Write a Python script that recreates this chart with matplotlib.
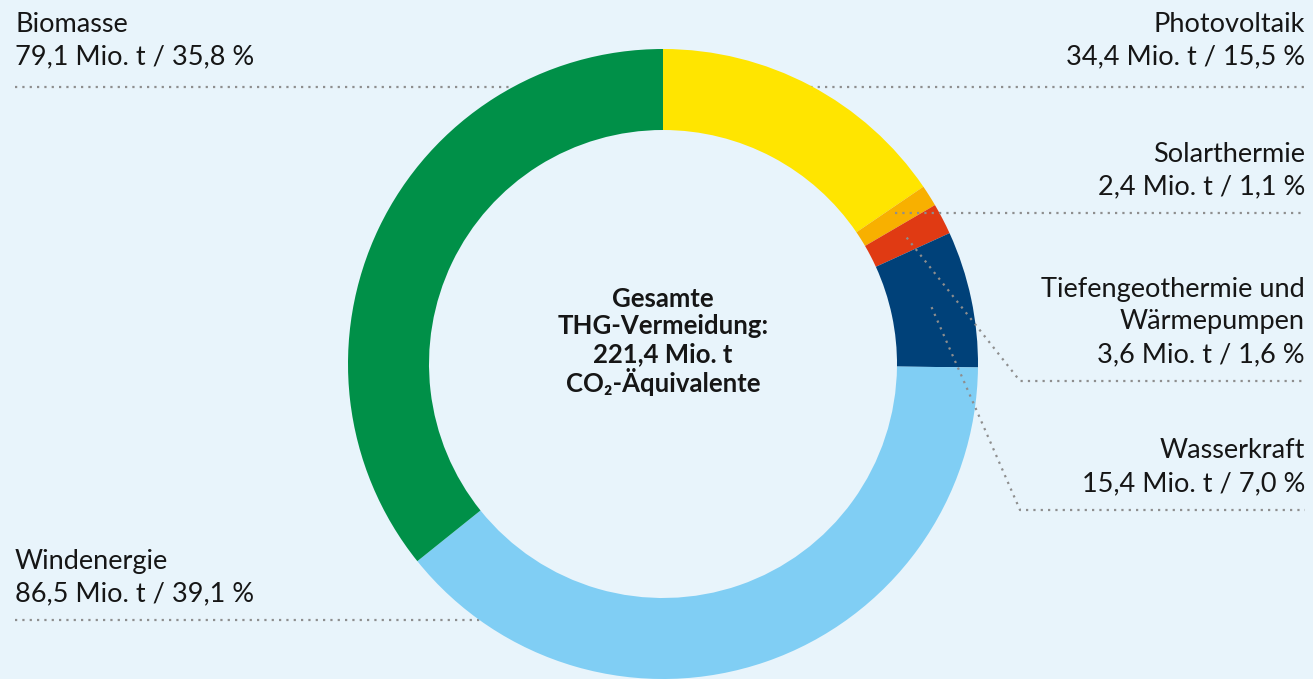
import matplotlib.pyplot as plt
import numpy as np

# data (clockwise from the top)
labels = ['Photovoltaik', 'Solarthermie', 'Tiefengeothermie und\nWärmepumpen',
          'Wasserkraft', 'Windenergie', 'Biomasse']
mio_t = [34.4, 2.4, 3.6, 15.4, 86.5, 79.1]
shares = [15.5, 1.1, 1.6, 7.0, 39.1, 35.8]
colors = ['#FFE500', '#F8B000', '#E03A13', '#004179', '#80CEF4', '#009048']
total = 221.4

W, H = 1313, 679
bg = '#E8F4FB'
dotcol = '#8E8E8E'
txtcol = '#161616'
plt.rcParams['font.family'] = ['Lato', 'DejaVu Sans']

fig = plt.figure(figsize=(W / 100, H / 100), dpi=100, facecolor=bg)
ax = fig.add_axes([0, 0, 1, 1])
ax.set_facecolor(bg)

cx, cy = 663, H - 364
R, ring = 315, 81
wedges, _ = ax.pie(shares, colors=colors, radius=R, center=(cx, cy), startangle=90,
                   counterclock=False, wedgeprops=dict(width=ring, linewidth=0, zorder=2))
ax.set_xlim(0, W)
ax.set_ylim(0, H)
ax.set_aspect('equal')
ax.axis('off')


def de(v):
    return f'{v:.1f}'.replace('.', ',')


def py(y):
    # pixel row from the top -> data y
    return H - y


def dots(xs, ys, z=1):
    ax.plot(xs, [py(y) for y in ys], color=dotcol, lw=1.6, ls=(0, (1, 2.3)),
            dash_capstyle='butt', zorder=z)


def label(lines, x, yline, ha, off=26):
    for i, s in enumerate(reversed(lines)):
        ax.text(x, py(yline - off - 33 * i), s, ha=ha, va='center', fontsize=19.5,
                color=txtcol)


# mid points of the segments on the middle of the ring
frac = np.array(shares) / sum(shares)
mid = 90 - 360 * (np.cumsum(frac) - frac / 2)
rm = R - ring / 2
mx = cx + rm * np.cos(np.radians(mid))
my = H - (cy + rm * np.sin(np.radians(mid)))

texts = [[*labels[i].split('\n'), f'{de(mio_t[i])} Mio. t / {de(shares[i])} %']
         for i in range(len(labels))]

xl, xr = 15, 1305
# Biomasse
dots([xl, cx - 150], [87, 87])
label(texts[5], xl, 87, 'left', off=30)
# Photovoltaik
dots([cx + 140, xr], [87, 87])
label(texts[0], xr, 87, 'right', off=30)
# Solarthermie
dots([mx[1], xr], [213, 213], z=3)
label(texts[1], xr, 213, 'right')
# Tiefengeothermie
dots([mx[2], 1020, xr], [my[2], 381, 381], z=3)
label(texts[2], xr, 381, 'right')
# Wasserkraft
dots([mx[3], 1020, xr], [my[3], 510, 510], z=3)
label(texts[3], xr, 510, 'right')
# Windenergie
dots([xl, cx - 170], [620, 620])
label(texts[4], xl, 620, 'left')

center = ['Gesamte', 'THG-Vermeidung:', f'{de(total)} Mio. t', 'CO\u2082-Äquivalente']
for i, s in enumerate(center):
    ax.text(cx, py(299 + 27.5 * i), s, ha='center', va='center', fontsize=18.5,
            fontweight='bold', color=txtcol)

fig.savefig('out.png', dpi=100, facecolor=bg)
